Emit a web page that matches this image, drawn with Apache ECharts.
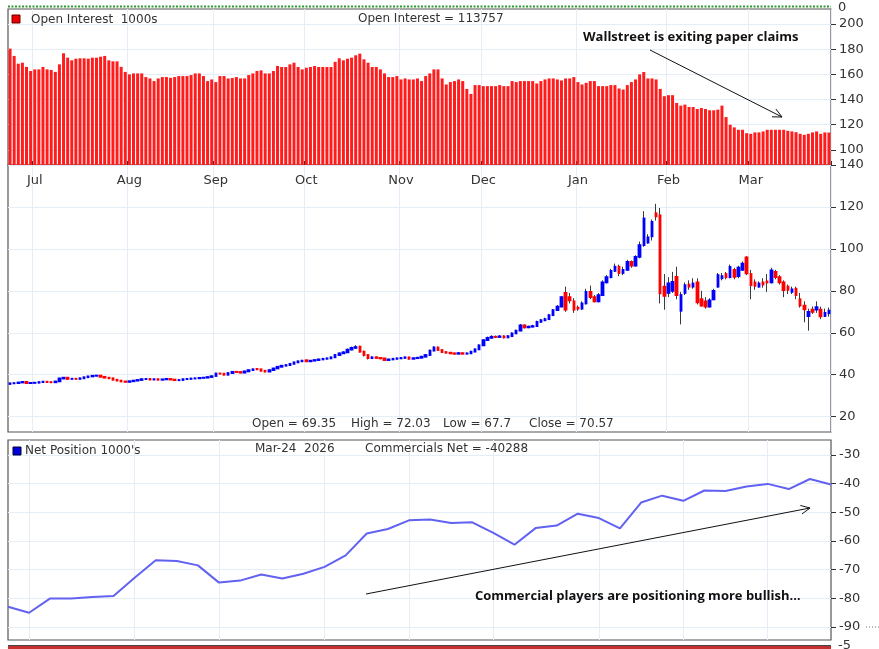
<!DOCTYPE html>
<html lang="en">
  <head>
    <meta charset="UTF-8" />
    <title>Open Interest / Price / Net Position</title>
    <script src="https://cdn.jsdelivr.net/npm/echarts@6/dist/echarts.min.js"></script>
    <style>
      html, body { margin: 0; padding: 0; background: #fff; }
      #chart { width: 879px; height: 649px; }
    </style>
  </head>
  <body>
    <div id="chart"></div>
    <script>
      // trading calendar: weekdays per month, Jun 23 2025 .. Mar 2026
      const tradingMonths = ["Jun", "Jul", "Aug", "Sep", "Oct", "Nov", "Dec", "Jan", "Feb", "Mar"];
      const tradingDaysPerMonth = [6, 23, 21, 22, 23, 20, 23, 22, 20, 20];

      // open interest, 1000s
      const openInterest = [
        180.5, 174.7, 168.5, 169.3, 166, 162.7, 164, 164, 165.9, 164,
        163.5, 162, 168, 176.8, 173.3, 171.2, 172.5, 172.8, 172.8, 172.5,
        173.3, 173.3, 174.1, 174.7, 171.2, 170.4, 170.4, 166, 162, 160,
        160.8, 160.8, 160.8, 157.9, 156.8, 154.7, 156.8, 157.9, 157.9, 157.3,
        157.9, 158.7, 158.7, 158.7, 159.5, 160.8, 160.8, 158.7, 154.7, 156,
        153.9, 158.7, 158.7, 156.8, 157.1, 157.9, 156.8, 156.8, 159.5, 160.8,
        162.7, 163.2, 160.8, 160.8, 162.7, 166.7, 165.9, 165.9, 168, 169.3,
        165.9, 164, 165.3, 165.9, 166.7, 165.9, 165.9, 165.9, 165.9, 170,
        172.8, 171.2, 172.5, 173.3, 175.2, 176.5, 172, 169.3, 165.9, 165.9,
        164, 160.8, 157.9, 157.9, 158.7, 156, 156.8, 156, 156, 156.8,
        154.7, 158.7, 160.8, 164, 164, 156.8, 152, 153.9, 154.7, 156,
        154.7, 148.5, 144.5, 151.5, 151.5, 150.7, 150.7, 150.7, 150.7, 151.5,
        150.7, 150.7, 154.7, 153.9, 154.7, 154.7, 154.7, 154.7, 152.8, 154.7,
        156, 156.8, 156.8, 156, 155.2, 156.8, 156.8, 157.9, 153.9, 152,
        153.3, 154.7, 154.7, 150.7, 150.7, 150.7, 151.5, 151.5, 148.8, 148,
        151.5, 153.9, 156, 160, 161.9, 156.8, 156.8, 156, 148.5, 142.7,
        143.5, 143.5, 137.3, 135.2, 136, 134.1, 134.1, 132.5, 133.3, 132.5,
        131.5, 131.5, 132, 135.2, 126.1, 120, 117.9, 116, 116, 113.3,
        112.8, 113.9, 113.9, 114.7, 116, 116, 116, 116, 116, 115.2,
        114.7, 114.1, 112.8, 112, 112.8, 113.9, 114.7, 112.8, 113.9, 113.8,
      ];

      // daily prices
      const priceOpen = [
        35.6, 35.9, 36.0, 36.3, 36.6, 36.0, 36.1, 36.2, 36.5, 36.7,
        36.5, 36.4, 36.8, 38.2, 38.6, 38.0, 38.1, 38.0, 38.3, 38.8,
        39.2, 39.5, 39.6, 39.0, 38.6, 38.3, 37.6, 37.2, 36.8, 36.6,
        36.9, 37.2, 37.5, 37.9, 38.0, 37.7, 37.9, 37.6, 37.8, 38.0,
        37.7, 37.4, 37.5, 37.9, 38.0, 38.2, 38.3, 38.5, 38.6, 38.9,
        39.4, 40.6, 40.5, 40.0, 40.8, 41.4, 41.3, 41.0, 41.6, 42.2,
        42.8, 42.6, 41.9, 41.5, 42.2, 43.0, 43.8, 44.3, 44.6, 45.2,
        45.9, 46.4, 46.9, 46.4, 46.7, 47.0, 47.3, 47.6, 47.8, 48.3,
        49.4, 50.2, 50.7, 52.0, 52.8, 53.4, 51.0, 49.4, 47.9, 48.3,
        48.0, 47.8, 47.0, 47.3, 47.6, 47.8, 48.0, 48.3, 47.6, 47.9,
        48.1, 48.6, 49.4, 51.5, 53.0, 51.8, 50.8, 50.5, 50.2, 50.0,
        50.3, 50.0, 50.2, 51.0, 52.1, 54.0, 56.5, 57.6, 58.1, 58.0,
        58.3, 57.8, 58.4, 59.7, 61.0, 63.5, 62.6, 62.9, 63.2, 65.2,
        66.0, 66.5, 68.4, 70.8, 72.5, 79.0, 77.0, 75.0, 72.0, 71.5,
        74.0, 79.5, 77.0, 75.0, 78.0, 84.0, 86.5, 89.5, 91.5, 88.5,
        90.0, 93.8, 92.0, 96.2, 101.8, 103.0, 106.0, 117.0, 116.0, 82.0,
        79.0, 80.0, 86.7, 70.5, 79.0, 83.0, 82.0, 84.0, 76.0, 75.0,
        72.5, 76.0, 82.0, 86.0, 88.0, 86.5, 90.0, 87.0, 90.0, 96.0,
        88.0, 84.0, 82.0, 84.0, 84.5, 84.0, 89.0, 86.5, 84.0, 82.0,
        79.5, 81.0, 76.0, 73.0, 68.0, 71.0, 71.0, 71.0, 68.0, 69.35,
      ];
      const priceClose = [
        35.9, 36.0, 36.3, 36.6, 36.0, 36.1, 36.2, 36.5, 36.7, 36.5,
        36.4, 36.8, 38.2, 38.6, 38.0, 38.1, 38.0, 38.3, 38.8, 39.2,
        39.5, 39.6, 39.0, 38.6, 38.3, 37.6, 37.2, 36.8, 36.6, 36.9,
        37.2, 37.5, 37.9, 38.0, 37.7, 37.9, 37.6, 37.8, 38.0, 37.7,
        37.4, 37.5, 37.9, 38.0, 38.2, 38.3, 38.5, 38.6, 38.9, 39.3,
        40.6, 40.5, 40.0, 40.8, 41.4, 41.3, 41.0, 41.6, 42.2, 42.6,
        42.6, 41.9, 41.5, 42.2, 43.0, 43.8, 44.3, 44.6, 45.2, 45.9,
        46.4, 46.7, 46.4, 46.7, 47.0, 47.3, 47.6, 47.8, 48.3, 49.4,
        50.2, 50.7, 52.0, 52.8, 53.2, 51.0, 49.4, 47.9, 48.3, 48.0,
        47.8, 47.0, 47.3, 47.6, 47.8, 48.0, 48.3, 47.6, 47.9, 48.1,
        48.6, 49.4, 51.5, 53.0, 51.8, 50.8, 50.5, 50.2, 50.0, 50.3,
        50.0, 50.2, 51.0, 52.1, 54.0, 56.5, 57.6, 58.1, 58.0, 58.3,
        57.8, 58.4, 59.7, 61.0, 63.5, 62.6, 62.9, 63.2, 65.2, 66.0,
        66.5, 68.4, 70.8, 72.5, 77.0, 71.0, 75.5, 71.0, 71.5, 74.0,
        79.5, 77.0, 75.0, 78.0, 84.0, 86.5, 89.5, 91.5, 88.5, 90.0,
        93.8, 92.0, 96.2, 101.8, 114.5, 105.5, 112.9, 115.5, 78.8, 77.6,
        83.5, 84.3, 78.0, 78.0, 82.7, 82.0, 83.5, 74.5, 73.0, 72.5,
        75.5, 80.0, 87.5, 87.0, 86.5, 91.4, 86.7, 91.0, 93.0, 88.3,
        82.7, 82.4, 83.5, 83.0, 84.0, 89.8, 86.5, 84.0, 80.3, 80.5,
        80.7, 78.0, 73.0, 71.2, 70.0, 70.0, 72.2, 67.8, 69.5, 70.57,
      ];
      const priceHigh = [
        36.2, 36.3, 36.5, 36.9, 36.8, 36.4, 36.5, 36.8, 37.0, 36.9,
        36.8, 37.0, 38.5, 38.9, 38.7, 38.4, 38.4, 38.6, 39.1, 39.5,
        39.7, 39.9, 39.7, 39.2, 38.9, 38.5, 37.9, 37.4, 37.0, 37.2,
        37.4, 37.8, 38.2, 38.3, 38.2, 38.1, 38.1, 38.0, 38.3, 38.2,
        37.9, 37.8, 38.1, 38.3, 38.5, 38.6, 38.8, 38.9, 39.2, 39.6,
        40.9, 40.9, 40.7, 41.1, 41.7, 41.7, 41.5, 41.9, 42.5, 43.0,
        43.0, 42.7, 42.2, 42.5, 43.3, 44.1, 44.6, 45.0, 45.6, 46.2,
        46.8, 47.1, 47.2, 47.0, 47.4, 47.7, 48.0, 48.2, 48.7, 49.9,
        50.6, 51.2, 52.5, 53.4, 54.1, 53.8, 51.5, 49.8, 48.9, 48.7,
        48.4, 48.0, 47.7, 48.0, 48.2, 48.4, 48.7, 48.5, 48.2, 48.5,
        49.0, 49.8, 52.0, 53.6, 53.4, 52.0, 51.3, 50.9, 50.6, 50.8,
        50.6, 50.6, 51.4, 52.5, 54.5, 57.0, 58.2, 58.8, 58.7, 58.9,
        58.8, 58.9, 60.2, 61.5, 64.2, 64.0, 63.4, 63.8, 65.8, 66.6,
        67.2, 69.0, 71.3, 73.2, 77.5, 82.0, 79.0, 76.5, 73.0, 75.0,
        81.0, 82.5, 78.0, 79.0, 85.0, 87.5, 90.5, 93.0, 92.5, 91.5,
        94.8, 94.5, 97.0, 103.5, 118.0, 107.0, 114.0, 121.5, 119.5, 88.0,
        86.5, 89.0, 91.5, 79.5, 84.0, 85.0, 86.0, 86.0, 80.0, 77.0,
        76.5, 81.0, 88.5, 88.5, 89.0, 92.5, 91.0, 92.0, 94.0, 96.5,
        90.0, 85.5, 84.5, 86.0, 88.0, 91.0, 90.0, 87.5, 85.0, 83.0,
        82.0, 82.0, 79.0, 75.0, 71.5, 72.5, 75.0, 72.5, 71.5, 72.03,
      ];
      const priceLow = [
        35.4, 35.7, 35.8, 36.1, 35.8, 35.8, 35.9, 36.0, 36.3, 36.2,
        36.1, 36.2, 36.6, 37.9, 37.7, 37.8, 37.8, 37.8, 38.1, 38.5,
        38.9, 39.2, 38.8, 38.4, 38.0, 37.4, 37.0, 36.5, 36.3, 36.4,
        36.7, 37.0, 37.3, 37.6, 37.4, 37.5, 37.3, 37.4, 37.6, 37.4,
        37.1, 37.2, 37.3, 37.7, 37.8, 38.0, 38.1, 38.3, 38.4, 38.7,
        39.2, 40.2, 39.7, 39.8, 40.6, 41.0, 40.7, 40.8, 41.4, 41.9,
        42.2, 41.6, 41.2, 41.3, 42.0, 42.8, 43.6, 44.1, 44.4, 45.0,
        45.7, 46.1, 46.0, 46.2, 46.5, 46.8, 47.1, 47.4, 47.6, 48.1,
        49.1, 49.9, 50.4, 51.7, 52.5, 50.6, 48.7, 47.3, 47.6, 47.7,
        47.4, 46.6, 46.8, 47.0, 47.3, 47.5, 47.8, 47.3, 47.4, 47.7,
        47.9, 48.3, 49.2, 51.2, 51.4, 50.4, 50.1, 49.8, 49.6, 49.8,
        49.7, 49.8, 50.0, 50.8, 51.8, 53.8, 56.2, 57.3, 57.5, 57.7,
        57.3, 57.5, 58.2, 59.4, 60.7, 62.0, 62.2, 62.6, 62.9, 64.9,
        65.5, 66.2, 68.0, 70.4, 72.2, 70.0, 74.0, 69.5, 70.5, 71.0,
        73.5, 76.0, 74.5, 74.5, 77.5, 83.5, 86.0, 89.0, 87.0, 87.5,
        89.5, 91.0, 91.5, 95.5, 101.0, 102.5, 104.0, 113.5, 74.0, 71.0,
        77.0, 79.0, 76.0, 64.0, 78.0, 80.5, 81.0, 73.5, 72.5, 71.5,
        72.0, 75.5, 81.5, 85.0, 85.5, 86.0, 85.5, 86.0, 89.5, 87.5,
        76.0, 80.5, 81.5, 81.5, 79.5, 83.5, 85.5, 83.0, 77.0, 78.5,
        78.5, 76.0, 72.0, 65.0, 61.0, 69.0, 69.5, 66.5, 67.5, 67.7,
      ];

      // commercials net position, 1000s (weekly)
      const netPosition = [
        -82.9, -85.0, -80.0, -80.0, -79.5, -79.2, -72.8, -66.7, -67.0, -68.5,
        -74.5, -73.8, -71.7, -73.1, -71.4, -69.0, -65.0, -57.4, -55.8, -52.8,
        -52.5, -53.7, -53.5, -57.2, -61.3, -55.5, -54.6, -50.5, -52.0, -55.6,
        -46.6, -44.2, -46.0, -42.4, -42.6, -41.0, -40.1, -41.9, -38.4, -40.3,
      ];
      const netMonthStartWeeks = [1, 6, 10, 15, 19, 23, 28, 32, 36];

      const oiTicks = [100, 120, 140, 160, 180, 200];
      const priceTicks = [20, 40, 60, 80, 100, 120, 140];
      const netTicks = [-90, -80, -70, -60, -50, -40, -30];

      // build categories
      const dayCats = [];
      const monthStartIdx = [];
      tradingMonths.forEach((m, k) => {
        if (k > 0) monthStartIdx.push(dayCats.length);
        for (let d = 1; d <= tradingDaysPerMonth[k]; d++) dayCats.push(m + " " + d);
      });
      const isMonthStart = (i) => monthStartIdx.indexOf(i) >= 0;
      const weekCats = netPosition.map((_, i) => "W" + (i + 1));

      const wickData = priceOpen.map((o, i) => [o, priceClose[i], priceLow[i], priceHigh[i]]);
      const bodyData = priceOpen.map((o, i) => [
        o,
        priceClose[i],
        Math.min(o, priceClose[i]),
        Math.max(o, priceClose[i]),
      ]);

      const FONT = "DejaVu Sans";
      const GRID_LINE = "#e4edf8";
      const PANEL_BORDER = "#555";

      const txt = (x, y, text, extra) => ({
        type: "text",
        x: x,
        y: y,
        z: 100,
        style: Object.assign(
          { text: text, font: "12px '" + FONT + "'", fill: "#333", verticalAlign: "middle" },
          extra || {}
        ),
      });

      // open arrow (line + V head)
      const arrow = (x1, y1, x2, y2) => {
        const a = Math.atan2(y2 - y1, x2 - x1);
        const L = 10, s = 0.45;
        return [
          { type: "line", z: 100, shape: { x1, y1, x2, y2 }, style: { stroke: "#111", lineWidth: 1 } },
          {
            type: "polyline",
            z: 100,
            shape: {
              points: [
                [x2 - L * Math.cos(a - s), y2 - L * Math.sin(a - s)],
                [x2, y2],
                [x2 - L * Math.cos(a + s), y2 - L * Math.sin(a + s)],
              ],
            },
            style: { stroke: "#111", lineWidth: 1, fill: null },
          },
        ];
      };

      const valueAxis = (gridIndex, min, max, ticks) => ({
        type: "value",
        gridIndex: gridIndex,
        position: "right",
        min: min,
        max: max,
        axisLine: { show: false },
        axisTick: { show: true, length: 5, customValues: ticks, lineStyle: { color: "#333" } },
        axisLabel: {
          customValues: ticks,
          margin: 8,
          color: "#333",
          fontFamily: FONT,
          fontSize: 13,
          showMinLabel: true,
          showMaxLabel: true,
        },
        splitLine: { show: true, lineStyle: { color: GRID_LINE, width: 1 } },
      });

      const chart = echarts.init(document.getElementById("chart"));
      chart.setOption({
        backgroundColor: "#fff",
        animation: false,
        grid: [
          { left: 8, top: 9, width: 823, height: 156, show: true, borderColor: PANEL_BORDER, borderWidth: 1.2 },
          { left: 8, top: 165, width: 823, height: 267, show: true, borderColor: PANEL_BORDER, borderWidth: 1.2 },
          { left: 8, top: 440, width: 823, height: 200, show: true, borderColor: PANEL_BORDER, borderWidth: 1.2 },
        ],
        xAxis: [
          {
            type: "category",
            gridIndex: 0,
            data: dayCats,
            axisLine: { show: false },
            axisTick: { show: true, inside: true, length: 4, interval: isMonthStart, lineStyle: { color: "#333" } },
            axisLabel: {
              interval: isMonthStart,
              formatter: (v) => v.split(" ")[0],
              margin: 9,
              color: "#333",
              fontFamily: FONT,
              fontSize: 13,
            },
            splitLine: { show: true, interval: isMonthStart, lineStyle: { color: GRID_LINE } },
          },
          {
            type: "category",
            gridIndex: 1,
            data: dayCats,
            axisLine: { show: false },
            axisTick: { show: false },
            axisLabel: { show: false },
            splitLine: { show: true, interval: isMonthStart, lineStyle: { color: GRID_LINE } },
          },
          {
            type: "category",
            gridIndex: 2,
            data: weekCats,
            boundaryGap: false,
            axisLine: { show: false },
            axisTick: { show: false },
            axisLabel: { show: false },
            splitLine: {
              show: true,
              interval: (i) => netMonthStartWeeks.indexOf(i) >= 0,
              lineStyle: { color: GRID_LINE },
            },
          },
        ],
        yAxis: [
          valueAxis(0, 88, 212, oiTicks),
          valueAxis(1, 12.7, 140, priceTicks),
          valueAxis(2, -94.5, -24.8, netTicks),
        ],
        series: [
          {
            name: "Open Interest",
            type: "bar",
            xAxisIndex: 0,
            yAxisIndex: 0,
            data: openInterest,
            barWidth: 3,
            itemStyle: { color: "#ff1c1c" },
          },
          {
            name: "wick",
            type: "candlestick",
            xAxisIndex: 1,
            yAxisIndex: 1,
            data: wickData,
            barWidth: 1,
            itemStyle: { color: "#3a3a3a", color0: "#3a3a3a", borderColor: "#3a3a3a", borderColor0: "#3a3a3a", borderWidth: 1 },
          },
          {
            name: "Price",
            type: "candlestick",
            xAxisIndex: 1,
            yAxisIndex: 1,
            data: bodyData,
            barWidth: 2,
            itemStyle: { color: "#0000ff", color0: "#ff0000", borderColor: "#0000ff", borderColor0: "#ff0000", borderWidth: 1.8 },
          },
          {
            name: "Net Position",
            type: "line",
            xAxisIndex: 2,
            yAxisIndex: 2,
            data: netPosition,
            symbol: "none",
            lineStyle: { color: "#6262f2", width: 2 },
          },
        ],
        graphic: [
          // cut-off panels above and below
          { type: "line", z: 90, shape: { x1: 8, y1: 6.5, x2: 831, y2: 6.5 }, style: { stroke: "#2e9a2e", lineWidth: 2, lineDash: [2, 1.5] } },
          { type: "rect", z: 90, shape: { x: 8, y: 645, width: 823, height: 6 }, style: { fill: "#c43030" } },
          { type: "line", z: 91, shape: { x1: 8, y1: 645.5, x2: 831, y2: 645.5 }, style: { stroke: "#444", lineWidth: 1 } },
          { type: "line", z: 90, shape: { x1: 866, y1: 627, x2: 879, y2: 627 }, style: { stroke: "#777", lineWidth: 1, lineDash: [1, 2] } },
          txt(838, 8, "0", { font: "13px '" + FONT + "'" }),
          txt(838, 646, "-5", { font: "13px '" + FONT + "'" }),

          // top panel header
          { type: "rect", z: 100, shape: { x: 12, y: 15, width: 8, height: 8 }, style: { fill: "#ee0000", stroke: "#600", lineWidth: 1 } },
          txt(31, 19.5, "Open Interest  1000s"),
          txt(358, 19, "Open Interest = 113757"),
          txt(583, 37, "Wallstreet is exiting paper claims", { font: "bold 13px 'Open Sans'", fill: "#111" }),
          ...arrow(650, 50, 782, 117),

          // price panel readout
          txt(252, 424, "Open = 69.35"),
          txt(351, 424, "High = 72.03"),
          txt(443, 424, "Low = 67.7"),
          txt(529, 424, "Close = 70.57"),

          // net position panel header
          { type: "rect", z: 100, shape: { x: 13, y: 447, width: 8, height: 8 }, style: { fill: "#0000dd", stroke: "#003", lineWidth: 1 } },
          txt(25, 451, "Net Position 1000's"),
          txt(255, 449, "Mar-24  2026"),
          txt(365, 449, "Commercials Net = -40288"),
          txt(475, 596, "Commercial players are positioning more bullish\u2026", { font: "bold 13px 'Open Sans'", fill: "#111" }),
          ...arrow(366, 594, 810, 508),
        ],
      });
    </script>
  </body>
</html>
